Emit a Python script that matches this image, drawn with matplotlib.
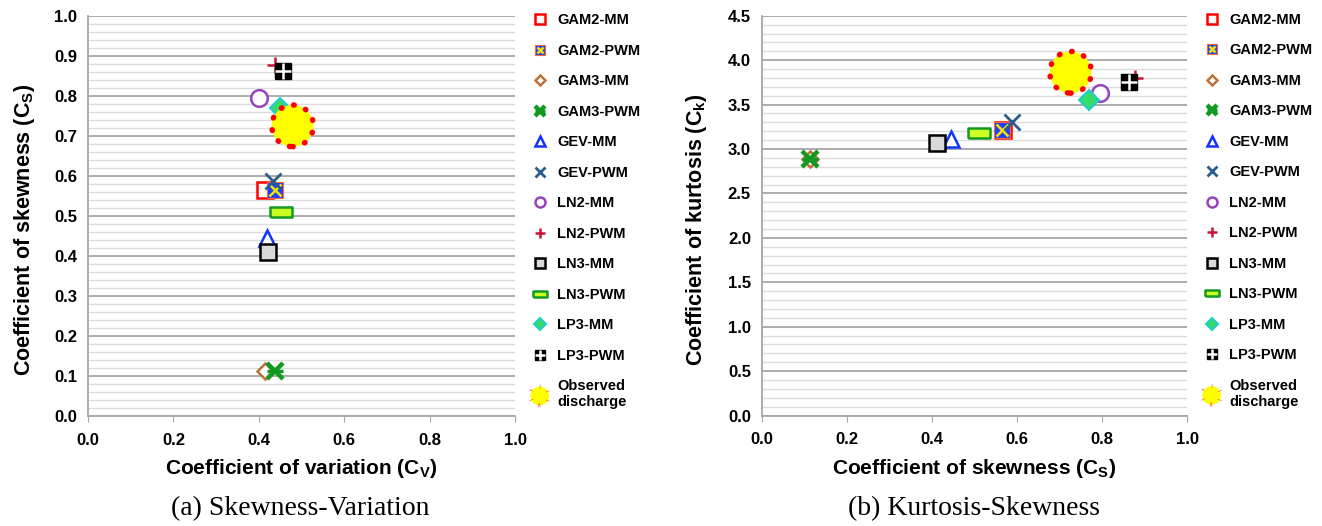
''' Skewness-Variation and Kurtosis-Skewness moment diagrams '''
import matplotlib
matplotlib.use('Agg')
from matplotlib import pyplot as plt
from matplotlib.ticker import MultipleLocator

methods = ['GAM2-MM', 'GAM2-PWM', 'GAM3-MM', 'GAM3-PWM', 'GEV-MM', 'GEV-PWM',
           'LN2-MM', 'LN2-PWM', 'LN3-MM', 'LN3-PWM', 'LP3-MM', 'LP3-PWM']
cv = [0.415, 0.438, 0.415, 0.438, 0.420, 0.434, 0.401, 0.438, 0.422, 0.451, 0.450, 0.457]
cs = [0.566, 0.565, 0.113, 0.113, 0.445, 0.588, 0.796, 0.877, 0.411, 0.510, 0.770, 0.864]
ck = [3.214, 3.214, 2.885, 2.885, 3.109, 3.304, 3.634, 3.800, 3.064, 3.177, 3.552, 3.758]
obs_label = 'Observed\ndischarge'
obs_cv = 0.479
obs_cs = 0.726
obs_ck = 3.864

font = ['Liberation Sans', 'DejaVu Sans']
plt.rcParams['font.family'] = font

rect = [(-1, -0.45), (1, -0.45), (1, 0.45), (-1, 0.45), (-1, -0.45)]
# (marker, size, face, edge, edge width) per method, extra overlay marker for combos
styles = [
    [('s', 12, 'white', 'red', 1.8)],
    [('s', 12, '#1f3fff', '#ff6633', 0.8), ('x', 8, 'none', '#f2e600', 1.8)],
    [('D', 8, 'white', '#c0703a', 1.8)],
    [('x', 11, 'none', '#119922', 3.2), ('_', 11, 'none', '#119922', 2.5)],
    [('^', 12, 'white', '#1133ff', 1.8)],
    [('x', 12, 'none', '#2a5d8f', 2.0)],
    [('o', 12, 'white', '#9944bb', 1.8)],
    [('+', 12, 'none', '#cc1133', 1.8)],
    [('s', 12, '#d9d9d9', 'black', 1.8)],
    [(rect, 16, '#ccff22', '#119922', 1.8)],
    [('D', 10, '#33dd66', '#22cccc', 1.5)],
    [('s', 12, 'black', 'black', 1.0), ('+', 12, 'none', 'white', 1.8)],
]

fig = plt.figure(figsize=(13.22, 5.26), dpi=100)
ax1 = fig.add_axes([0.0666, 0.209, 0.323, 0.760])
ax2 = fig.add_axes([0.5764, 0.210, 0.3215, 0.760])

panels = [
    (ax1, cv, cs, obs_cv, obs_cs, (0, 1.0), 0.1, 0.02, -0.12,
     r'Coefficient of variation (C$_\mathregular{V}$)',
     r'Coefficient of skewness (C$_\mathregular{S}$)'),
    (ax2, cs, ck, obs_cs, obs_ck, (0, 4.5), 0.5, 0.1, -0.125,
     r'Coefficient of skewness (C$_\mathregular{S}$)',
     r'Coefficient of kurtosis (C$_\mathregular{k}$)'),
]

for ax, xs, ys, ox, oy, ylim, ymaj, ymin, ylx, xlabel, ylabel in panels:
    handles = []
    for i, name in enumerate(methods):
        parts = []
        for m, ms, fc, ec, mew in styles[i]:
            h, = ax.plot([xs[i]], [ys[i]], linestyle='none', marker=m, markersize=ms,
                         markerfacecolor=fc, markeredgecolor=ec, markeredgewidth=mew, zorder=3)
            parts.append(h)
        handles.append(tuple(parts))
    ho = ax.scatter([ox], [oy], s=900, c='#ffff00', edgecolors='red', linewidths=4,
                    linestyle=(0, (0.1, 2.2)), capstyle='round', zorder=4)
    handles.append(ho)

    ax.set_xlim(0, 1.0)
    ax.set_ylim(*ylim)
    ax.xaxis.set_major_locator(MultipleLocator(0.2))
    ax.yaxis.set_major_locator(MultipleLocator(ymaj))
    ax.yaxis.set_minor_locator(MultipleLocator(ymin))
    ax.xaxis.set_major_formatter(plt.FormatStrFormatter('%.1f'))
    ax.yaxis.set_major_formatter(plt.FormatStrFormatter('%.1f'))
    ax.grid(axis='y', which='major', color='#a6a6a6', linewidth=1.3)
    ax.grid(axis='y', which='minor', color='#dcdcdc', linewidth=1.0)
    ax.set_axisbelow(True)
    for s in ['top', 'right']:
        ax.spines[s].set_visible(False)
    for s in ['left', 'bottom']:
        ax.spines[s].set_color('#a6a6a6')
        ax.spines[s].set_linewidth(1.3)
    ax.tick_params(axis='y', which='both', length=0, pad=8)
    ax.tick_params(axis='x', length=4, color='#a6a6a6', pad=8)
    for lab in ax.get_xticklabels() + ax.get_yticklabels():
        lab.set_fontsize(12)
        lab.set_fontweight('bold')
    ax.set_xlabel(xlabel, fontsize=15, fontweight='bold', labelpad=7)
    ax.set_ylabel(ylabel, fontsize=15.5, fontweight='bold')
    ax.yaxis.set_label_coords(ylx, 0.465)

    leg = ax.legend(handles, methods + [obs_label], loc='upper left',
                    bbox_to_anchor=(1.01, 1.04), frameon=False, markerscale=0.6,
                    handlelength=1.0, handletextpad=0.7, labelspacing=1.13,
                    prop={'family': font, 'weight': 'bold', 'size': 10.5})
    leg.legend_handles[-1].set_sizes([180])
    leg.legend_handles[-1].set_linewidths(3)

fig.text(0.227, 0.02, '(a) Skewness-Variation', ha='center', fontsize=20,
         family=['Liberation Serif', 'DejaVu Serif'])
fig.text(0.737, 0.02, '(b) Kurtosis-Skewness', ha='center', fontsize=20,
         family=['Liberation Serif', 'DejaVu Serif'])

plt.savefig('out.png', dpi=100)
plt.close()
